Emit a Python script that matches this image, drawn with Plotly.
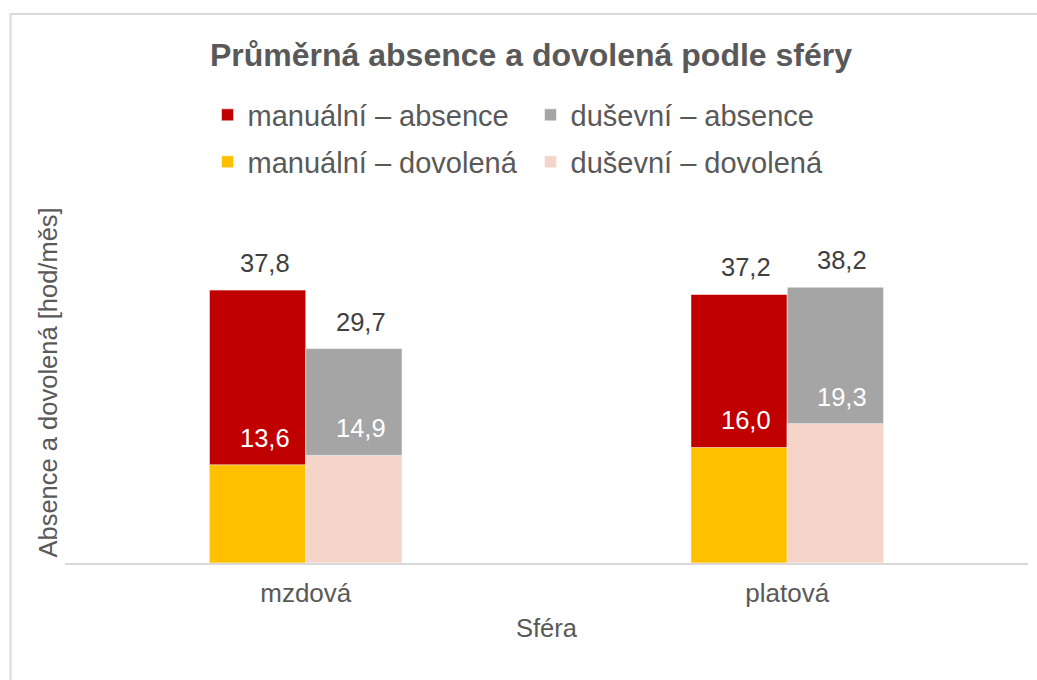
import plotly.graph_objects as go

# Data
spheres = ["mzdová", "platová"]
manual_absence = [37.8, 37.2]
mental_absence = [29.7, 38.2]
manual_leave = [13.6, 16.0]
mental_leave = [14.9, 19.3]

series_names = [
    "manuální – absence",
    "duševní – absence",
    "manuální – dovolená",
    "duševní – dovolená",
]

FONT = "Liberation Sans, Arial, sans-serif"
TXT = "#595959"
LBL = "#404040"

C_RED = "#C00000"
C_GRAY = "#A5A5A5"
C_YEL = "#FFC000"
C_PINK = "#F5D4CA"

BAR_W = 0.2


def fmt(v):
    return f"{v:.1f}".replace(".", ",")


fig = go.Figure()

# absence bars sit behind, leave bars overlap them from the baseline
traces = [
    (manual_absence, series_names[0], C_RED, -BAR_W, "legend"),
    (mental_absence, series_names[1], C_GRAY, 0.0, "legend"),
    (manual_leave, series_names[2], C_YEL, -BAR_W, "legend2"),
    (mental_leave, series_names[3], C_PINK, 0.0, "legend2"),
]
for vals, name, color, off, leg in traces:
    fig.add_trace(go.Bar(
        x=spheres, y=vals, name=name,
        marker=dict(color=color, line=dict(color="rgba(255,255,255,0.55)", width=1)),
        offset=off, width=BAR_W, legend=leg,
        hoverinfo="skip",
    ))

# value labels above each bar
label_sets = [
    (manual_absence, -BAR_W / 2, LBL),
    (mental_absence, BAR_W / 2, LBL),
    (manual_leave, -BAR_W / 2, "white"),
    (mental_leave, BAR_W / 2, "white"),
]
for vals, dx, col in label_sets:
    for i, v in enumerate(vals):
        fig.add_annotation(
            x=i + dx, y=v, xref="x", yref="y",
            text=fmt(v), showarrow=False,
            yanchor="bottom", xanchor="center", yshift=11, xshift=7,
            font=dict(family=FONT, size=25.5, color=col),
        )

# vertical axis title
fig.add_annotation(
    x=-18 / 963, y=0.5, xref="paper", yref="paper",
    text="Absence a dovolená [hod/měs]", textangle=-90, showarrow=False,
    xanchor="center", yanchor="middle",
    font=dict(family=FONT, size=25.5, color=TXT),
)

# outer chart frame
fig.add_shape(
    type="rect", xref="paper", yref="paper",
    x0=-0.0566, x1=1.02, y0=-0.36, y1=1.521,
    line=dict(color="#D9D9D9", width=2), fillcolor="rgba(0,0,0,0)", layer="below",
)

LEGEND_COMMON = dict(
    orientation="h", x=0.148, xanchor="left", yanchor="middle",
    entrywidth=278, font=dict(family=FONT, size=29, color=TXT),
    bgcolor="rgba(0,0,0,0)", itemclick=False, itemdoubleclick=False,
)

fig.update_layout(
    width=1037, height=680,
    margin=dict(l=65, r=9, t=202, b=117),
    paper_bgcolor="white", plot_bgcolor="white",
    barmode="overlay",
    font=dict(family=FONT, color=TXT),
    title=dict(
        text="<b>Průměrná absence a dovolená podle sféry</b>",
        x=531 / 1037, xanchor="center", xref="container",
        y=1 - 55 / 680, yanchor="middle", yref="container",
        font=dict(family=FONT, size=32, color=TXT),
    ),
    legend=dict(y=1.241, **LEGEND_COMMON),
    legend2=dict(y=1.111, **LEGEND_COMMON),
    xaxis=dict(
        type="category",
        showline=True, linecolor="#D9D9D9", linewidth=2,
        showgrid=False, zeroline=False, ticks="",
        tickfont=dict(family=FONT, size=26, color=TXT),
        ticklabelstandoff=6,
        title=dict(text="Sféra", font=dict(family=FONT, size=25.5, color=TXT), standoff=12),
    ),
    yaxis=dict(
        range=[0, 50],
        showline=False, showgrid=False, zeroline=False,
        showticklabels=False, ticks="",
    ),
)

fig.write_html("out.html")
